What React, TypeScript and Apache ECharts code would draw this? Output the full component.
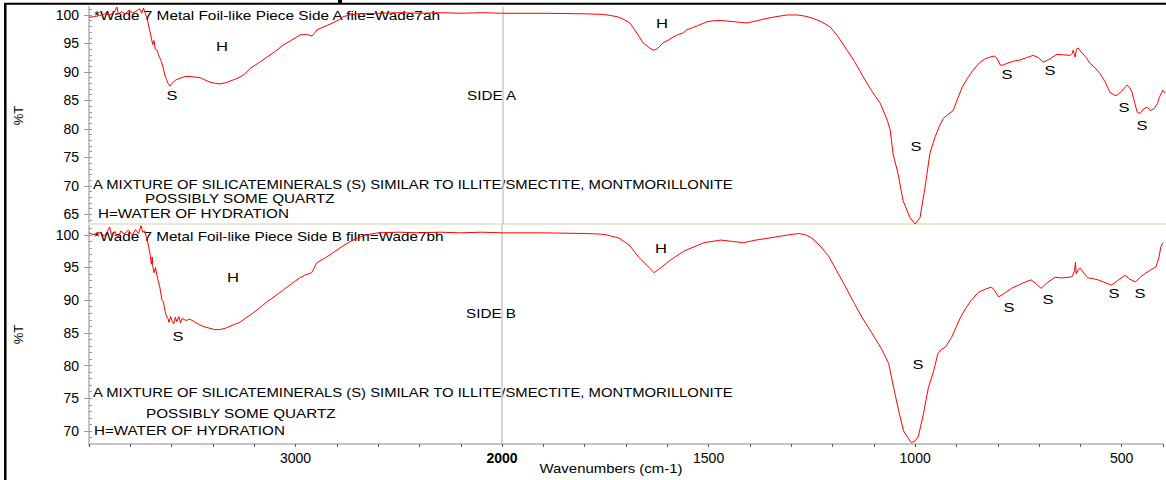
import React, { useEffect, useRef } from "react";
import * as echarts from "echarts";

// ---------- data (wavenumber in cm-1, %T) ----------
const sideAWave = [4000, 3975, 3950, 3925, 3900, 3880, 3865, 3858, 3845, 3825, 3805, 3790, 3770, 3755, 3745, 3737, 3728, 3718, 3708, 3700, 3692, 3686, 3680, 3671, 3664, 3657, 3650, 3642, 3633, 3625, 3618, 3609, 3600, 3594, 3580, 3560, 3535, 3512, 3490, 3463, 3440, 3415, 3390, 3367, 3340, 3318, 3295, 3270, 3245, 3222, 3180, 3140, 3100, 3062, 3020, 2980, 2950, 2922, 2910, 2898, 2860, 2821, 2790, 2772, 2740, 2700, 2600, 2500, 2400, 2300, 2200, 2100, 2000, 1900, 1800, 1760, 1748, 1724, 1710, 1693, 1676, 1661, 1645, 1637, 1628, 1613, 1600, 1589, 1575, 1565, 1555, 1530, 1507, 1490, 1468, 1440, 1410, 1385, 1362, 1340, 1313, 1289, 1270, 1250, 1230, 1209, 1190, 1168, 1150, 1129, 1110, 1088, 1071, 1064, 1057, 1045, 1033, 1016, 1004, 992, 980, 968, 956, 945, 936, 925, 912, 900, 890, 878, 864, 847, 835, 823, 813, 806, 798, 790, 782, 765, 750, 735, 719, 705, 695, 680, 661, 645, 629, 624, 622, 619, 617, 614, 610, 605, 600, 590, 581, 570, 557, 545, 533, 522, 516, 505, 492, 486, 480, 473, 467, 460, 452, 443, 435, 426, 418, 414, 405, 400];
const sideAT = [99.6, 99.7, 99.9, 100.2, 100.0, 100.4, 101.4, 100.1, 100.6, 100.2, 100.9, 100.3, 100.7, 101.1, 100.3, 101.2, 100.3, 99.2, 97.5, 96.2, 94.8, 95.5, 94.0, 93.8, 93.0, 92.4, 91.8, 90.8, 89.4, 88.6, 88.0, 87.5, 87.9, 88.2, 88.6, 88.9, 89.2, 89.2, 89.1, 89.0, 88.6, 88.2, 88.0, 87.9, 88.1, 88.4, 88.7, 89.1, 89.7, 90.6, 91.6, 92.6, 93.6, 94.7, 95.6, 96.5, 96.6, 96.3, 96.8, 97.4, 98.0, 98.6, 99.2, 99.7, 100.0, 100.2, 100.3, 100.4, 100.3, 100.4, 100.3, 100.4, 100.3, 100.3, 100.2, 100.1, 100.0, 99.7, 99.3, 98.6, 96.8, 95.1, 94.2, 93.8, 94.0, 95.1, 95.6, 96.1, 96.6, 96.8, 97.4, 98.1, 98.8, 99.0, 99.0, 98.8, 98.6, 99.0, 99.4, 99.7, 100.0, 100.0, 99.8, 99.4, 98.8, 97.9, 96.2, 93.8, 91.8, 89.1, 86.8, 84.5, 81.5, 79.8, 75.6, 72.1, 67.4, 64.4, 63.3, 64.4, 69.7, 75.7, 78.5, 80.5, 81.8, 82.5, 83.2, 85.5, 87.3, 88.8, 90.3, 91.7, 92.3, 92.6, 92.8, 92.4, 91.2, 91.2, 91.5, 91.9, 92.1, 92.5, 92.9, 92.5, 91.7, 92.2, 93.1, 93.0, 92.9, 93.3, 93.8, 93.0, 92.6, 94.0, 94.2, 93.7, 93.3, 92.5, 91.5, 90.8, 89.7, 88.3, 86.4, 85.9, 85.9, 86.6, 87.7, 87.3, 86.5, 84.5, 82.9, 82.7, 83.5, 83.8, 83.2, 83.6, 84.5, 85.5, 86.8, 86.3];

const sideBWave = [4000, 3975, 3950, 3925, 3910, 3900, 3890, 3875, 3860, 3845, 3830, 3810, 3790, 3775, 3760, 3748, 3740, 3730, 3722, 3715, 3705, 3698, 3694, 3691, 3685, 3678, 3671, 3664, 3657, 3647, 3640, 3633, 3625, 3618, 3612, 3605, 3599, 3590, 3582, 3575, 3565, 3557, 3550, 3530, 3512, 3490, 3463, 3440, 3415, 3390, 3367, 3340, 3318, 3295, 3270, 3240, 3207, 3175, 3140, 3100, 3062, 3020, 2980, 2950, 2922, 2910, 2898, 2860, 2821, 2780, 2739, 2700, 2656, 2600, 2500, 2400, 2300, 2200, 2100, 2000, 1900, 1800, 1760, 1748, 1717, 1693, 1668, 1644, 1632, 1615, 1591, 1560, 1511, 1470, 1445, 1415, 1385, 1354, 1306, 1282, 1265, 1250, 1230, 1209, 1190, 1168, 1150, 1129, 1105, 1081, 1064, 1052, 1040, 1028, 1018, 1009, 1000, 992, 980, 968, 956, 945, 936, 927, 912, 900, 890, 877, 864, 847, 830, 815, 808, 798, 785, 767, 750, 733, 719, 707, 695, 680, 661, 645, 629, 620, 614, 612, 610, 605, 600, 590, 581, 570, 557, 545, 533, 525, 510, 492, 480, 467, 455, 443, 430, 417, 410, 405, 400];
const sideBT = [100.3, 100.0, 100.4, 99.8, 100.6, 101.2, 99.7, 100.5, 99.6, 100.6, 100.1, 100.7, 100.0, 100.8, 100.2, 101.4, 100.4, 100.6, 99.6, 98.8, 97.2, 95.5, 96.6, 95.1, 94.2, 95.0, 93.8, 92.8, 92.0, 90.0, 89.8, 88.5, 87.6, 87.2, 86.6, 87.5, 86.9, 86.4, 87.4, 86.7, 87.5, 86.5, 87.2, 86.9, 87.1, 86.7, 86.2, 85.9, 85.7, 85.5, 85.5, 85.7, 86.0, 86.3, 86.6, 87.3, 88.0, 88.8, 89.7, 90.6, 91.5, 92.5, 93.4, 93.9, 94.2, 94.9, 95.7, 96.4, 97.2, 98.1, 98.9, 99.5, 100.0, 100.3, 100.4, 100.3, 100.4, 100.3, 100.4, 100.3, 100.3, 100.2, 100.1, 100.0, 99.5, 98.5, 96.5, 95.0, 94.2, 95.0, 96.2, 97.5, 98.8, 99.2, 99.0, 98.8, 99.2, 99.5, 100.0, 100.2, 100.0, 99.5, 98.3, 96.7, 94.5, 92.0, 89.8, 87.4, 85.0, 82.5, 80.3, 76.6, 73.1, 70.0, 69.0, 68.2, 68.5, 69.2, 72.6, 76.6, 79.0, 81.8, 82.5, 82.8, 84.3, 86.0, 87.4, 88.8, 90.0, 91.2, 91.7, 92.0, 91.5, 90.5, 91.0, 91.8, 92.3, 92.8, 93.1, 92.5, 91.8, 92.7, 93.5, 93.4, 93.5, 93.6, 94.5, 95.8, 94.0, 94.7, 94.9, 94.0, 93.4, 93.3, 93.1, 92.8, 92.5, 92.3, 93.0, 93.8, 93.2, 92.8, 93.5, 94.1, 94.6, 95.1, 96.5, 98.2, 98.8];

const xTickLabels = [3000, 2000, 1500, 1000, 500];
const yTicksA = [65, 70, 75, 80, 85, 90, 95, 100];
const yTicksB = [70, 75, 80, 85, 90, 95, 100];
const yMinorA = [64, 65, 66, 67, 68, 69, 70, 71, 72, 73, 74, 75, 76, 77, 78, 79, 80, 81, 82, 83, 84, 85, 86, 87, 88, 89, 90, 91, 92, 93, 94, 95, 96, 97, 98, 99, 100, 101];
const yMinorB = [69, 70, 71, 72, 73, 74, 75, 76, 77, 78, 79, 80, 81, 82, 83, 84, 85, 86, 87, 88, 89, 90, 91, 92, 93, 94, 95, 96, 97, 98, 99, 100, 101];

const titleA = "*Wade 7 Metal Foil-like Piece Side A file=Wade7ah";
const titleB = "*Wade 7 Metal Foil-like Piece Side B film=Wade7bh";
const noteMixture = "A MIXTURE OF SILICATEMINERALS (S) SIMILAR TO ILLITE/SMECTITE, MONTMORILLONITE";
const noteQuartz = "POSSIBLY SOME QUARTZ";
const noteWater = "H=WATER OF HYDRATION";
const xAxisTitle = "Wavenumbers (cm-1)";

// spectrometer x scale: above 2000 cm-1 compressed by 2
const toAxis = (w: number) => (w > 2000 ? 2000 + (w - 2000) / 2 : w);
const fromAxis = (u: number) => (u > 2000 ? 2000 + (u - 2000) * 2 : u);

const FONT = "'Liberation Sans', Arial, sans-serif";
const ANN_SIZE = 12.5;
const AXIS_GRAY = "#c4c4c4";
const TICK_GRAY = "#9a9a9a";

let measureCtx: CanvasRenderingContext2D | null = null;
function measure(text: string, font: string) {
  if (!measureCtx) measureCtx = document.createElement("canvas").getContext("2d");
  if (!measureCtx) return text.length * 7;
  measureCtx.font = font;
  return measureCtx.measureText(text).width;
}

export default function App() {
  const ref = useRef<HTMLDivElement>(null);

  useEffect(() => {
    if (!ref.current) return;
    const chart = echarts.init(ref.current, undefined, { renderer: "svg" });

    const dataA = sideAWave.map((w, i) => [toAxis(w), sideAT[i]]);
    const dataB = sideBWave.map((w, i) => [toAxis(w), sideBT[i]]);

    // text stretched horizontally to the width it has in the original plot
    const txt = (text: string, x: number, y: number, width: number, align: string = "left") => {
      const font = `${ANN_SIZE}px ${FONT}`;
      const natural = measure(text, font);
      return {
        type: "text",
        x,
        y,
        scaleX: natural > 0 ? width / natural : 1,
        silent: true,
        style: {
          text,
          fill: "#000",
          font,
          textAlign: align,
          textVerticalAlign: "middle",
        },
      };
    };

    const vline = {
      silent: true,
      symbol: "none",
      label: { show: false },
      lineStyle: { color: "#c8c8c8", width: 1.5, type: "solid" },
      data: [{ xAxis: 2000 }],
    };

    const baseX = {
      type: "value",
      min: 400,
      max: 3000,
      inverse: true,
      splitLine: { show: false },
    };

    const yLabel = { show: true, margin: 10, color: "#000", fontFamily: FONT, fontSize: 14 };
    const yName = {
      name: "%T",
      nameLocation: "middle",
      nameGap: 64,
      nameTextStyle: { color: "#000", fontFamily: FONT, fontSize: 13 },
    };

    const option: any = {
      animation: false,
      backgroundColor: "#fff",
      grid: [
        { left: 89, top: 7, width: 1076, height: 217 },
        { left: 89, top: 225, width: 1076, height: 219 },
      ],
      xAxis: [
        {
          ...baseX,
          gridIndex: 0,
          axisLine: { show: true, lineStyle: { color: "#ebe7d6", width: 2 } },
          axisTick: { show: false },
          axisLabel: { show: false },
        },
        {
          ...baseX,
          gridIndex: 1,
          interval: 100,
          axisLine: { show: true, lineStyle: { color: AXIS_GRAY, width: 2 } },
          axisTick: { show: true, length: 3, lineStyle: { color: "#555", width: 1 } },
          axisLabel: {
            show: true,
            margin: 7,
            color: "#000",
            fontFamily: FONT,
            fontSize: 14,
            showMinLabel: true,
            showMaxLabel: true,
            formatter: (u: number) => {
              const w = fromAxis(u);
              if (!xTickLabels.includes(w)) return "";
              return w === 2000 ? `{b|${w}}` : String(w);
            },
            rich: { b: { fontWeight: "bold", fontFamily: FONT, fontSize: 14, color: "#000" } },
          },
        },
      ],
      yAxis: [
        {
          type: "value",
          gridIndex: 0,
          min: 63.3,
          max: 101.4,
          position: "left",
          ...yName,
          axisLine: { show: true, lineStyle: { color: AXIS_GRAY, width: 2 } },
          axisTick: { show: true, length: 5, customValues: yTicksA, lineStyle: { color: TICK_GRAY } },
          axisLabel: { ...yLabel, customValues: yTicksA },
          splitLine: { show: false },
        },
        {
          type: "value",
          gridIndex: 0,
          min: 63.3,
          max: 101.4,
          position: "left",
          axisLine: { show: false },
          axisTick: { show: true, inside: true, length: 3, customValues: yMinorA, lineStyle: { color: TICK_GRAY } },
          axisLabel: { show: false },
          splitLine: { show: false },
        },
        {
          type: "value",
          gridIndex: 1,
          min: 68.0,
          max: 101.5,
          position: "left",
          ...yName,
          axisLine: { show: true, lineStyle: { color: AXIS_GRAY, width: 2 } },
          axisTick: { show: true, length: 5, customValues: yTicksB, lineStyle: { color: TICK_GRAY } },
          axisLabel: { ...yLabel, customValues: yTicksB },
          splitLine: { show: false },
        },
        {
          type: "value",
          gridIndex: 1,
          min: 68.0,
          max: 101.5,
          position: "left",
          axisLine: { show: false },
          axisTick: { show: true, inside: true, length: 3, customValues: yMinorB, lineStyle: { color: TICK_GRAY } },
          axisLabel: { show: false },
          splitLine: { show: false },
        },
      ],
      series: [
        {
          type: "line",
          name: "Side A",
          xAxisIndex: 0,
          yAxisIndex: 0,
          data: dataA,
          showSymbol: false,
          symbol: "none",
          lineStyle: { color: "#ff0000", width: 1 },
          markLine: vline,
          z: 5,
        },
        {
          type: "line",
          name: "Side B",
          xAxisIndex: 1,
          yAxisIndex: 2,
          data: dataB,
          showSymbol: false,
          symbol: "none",
          lineStyle: { color: "#ff0000", width: 1 },
          markLine: vline,
          z: 5,
        },
      ],
      graphic: [
        // frame and the clipped fragment of the page title above it
        { type: "line", silent: true, shape: { x1: 4, y1: 3.7, x2: 1166, y2: 3.7 }, style: { stroke: "#000", lineWidth: 2 } },
        { type: "line", silent: true, shape: { x1: 5.3, y1: 3, x2: 5.3, y2: 480 }, style: { stroke: "#000", lineWidth: 2.5 } },
        { type: "rect", silent: true, shape: { x: 338, y: 0, width: 4, height: 3 }, style: { fill: "#000" } },
        // top panel annotations
        txt(titleA, 94, 16, 348),
        txt("H", 222, 47, 12, "center"),
        txt("S", 172, 96, 11, "center"),
        txt("SIDE A", 467, 96, 50),
        txt("H", 662, 24, 12, "center"),
        txt("S", 916, 147, 11, "center"),
        txt("S", 1007, 75, 11, "center"),
        txt("S", 1050, 71, 11, "center"),
        txt("S", 1124, 108, 11, "center"),
        txt("S", 1142, 126, 11, "center"),
        txt(noteMixture, 93, 185, 641),
        txt(noteQuartz, 145, 199, 190),
        txt(noteWater, 98, 214, 191),
        // bottom panel annotations
        txt(titleB, 94, 237, 350),
        txt("H", 233, 278, 12, "center"),
        txt("S", 178, 337, 11, "center"),
        txt("SIDE B", 466, 314, 50),
        txt("H", 661, 249, 12, "center"),
        txt("S", 918, 365, 11, "center"),
        txt("S", 1009, 308, 11, "center"),
        txt("S", 1048, 300, 11, "center"),
        txt("S", 1114, 294, 11, "center"),
        txt("S", 1140, 294, 11, "center"),
        txt(noteMixture, 93, 393, 641),
        txt(noteQuartz, 146, 414, 190),
        txt(noteWater, 94, 431, 191),
        // x-axis title
        txt(xAxisTitle, 611, 469, 143, "center"),
      ],
    };

    chart.setOption(option);
    return () => chart.dispose();
  }, []);

  return (
    <div
      ref={ref}
      style={{ position: "absolute", left: 0, top: 0, width: 1166, height: 480, background: "#fff" }}
    />
  );
}
